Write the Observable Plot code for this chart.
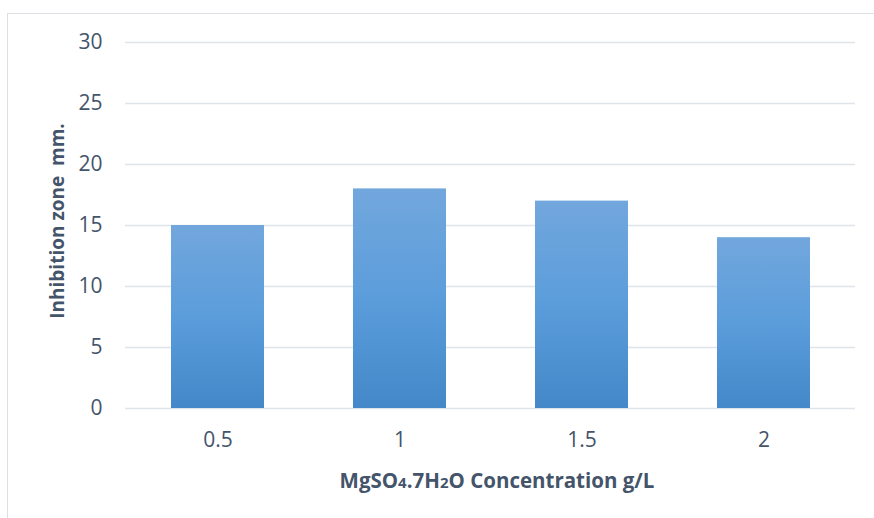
<!DOCTYPE html>
<html>
<head>
<meta charset="utf-8">
<script src="https://cdn.jsdelivr.net/npm/d3@7"></script>
<script src="https://cdn.jsdelivr.net/npm/@observablehq/plot@0.6"></script>
<style>
  html, body { margin: 0; padding: 0; background: #fff; }
  #chart { position: relative; width: 874px; height: 518px; overflow: hidden; }
  #frame { position: absolute; left: 7px; top: 13px; width: 900px; height: 540px;
           border-left: 1.5px solid #dcdfe3; border-top: 1.5px solid #dcdfe3; box-sizing: border-box; }
  #chart svg { position: absolute; left: 0; top: 0; }
</style>
</head>
<body>
<div id="chart"><div id="frame"></div></div>
<script>
// MgSO4.7H2O concentration (g/L) and the inhibition zone it produced (mm)
const concentrations = ["0.5", "1", "1.5", "2"];
const inhibitionZone = [15, 18, 17, 14];
const yTicks = [0, 5, 10, 15, 20, 25, 30];

const rows = concentrations.map((c, i) => ({ conc: c, zone: inhibitionZone[i] }));

const ink = "#44546a";
const font = "'Open Sans', 'DejaVu Sans', sans-serif";

// vertical blue gradient used to fill the bars
const gradientDefs = () => {
  const defs = d3.create("svg:defs");
  const g = defs.append("linearGradient")
    .attr("id", "barFill").attr("x1", 0).attr("y1", 0).attr("x2", 0).attr("y2", 1);
  g.append("stop").attr("offset", "0%").attr("stop-color", "#72a7dd");
  g.append("stop").attr("offset", "50%").attr("stop-color", "#5b9ddb");
  g.append("stop").attr("offset", "100%").attr("stop-color", "#4488c9");
  return defs.node();
};

const chart = Plot.plot({
  width: 874,
  height: 518,
  marginLeft: 125,
  marginRight: 19,
  marginTop: 42,
  marginBottom: 110,
  style: { fontFamily: font, fontSize: "20px", color: ink, background: "transparent" },
  x: { domain: concentrations, paddingInner: 0.49, paddingOuter: 0.245, label: null },
  y: { domain: [0, 30], ticks: yTicks, label: null },
  marks: [
    gradientDefs,
    Plot.gridY(yTicks, { stroke: "#dfe3ea", strokeOpacity: 1, strokeWidth: 1.6 }),
    Plot.barY(rows, { x: "conc", y: "zone", fill: "url(#barFill)" }),
    Plot.axisY(yTicks, { tickSize: 0, tickPadding: 23, fill: ink, fontSize: 21, label: null }),
    Plot.axisX({ tickSize: 0, tickPadding: 24, fill: ink, fontSize: 21, label: null })
  ]
});

// axis titles
const svg = d3.select(chart);
svg.append("text")
  .attr("transform", "translate(64,221) rotate(-90)")
  .attr("text-anchor", "middle")
  .attr("fill", ink)
  .attr("font-family", font)
  .attr("font-weight", "bold")
  .attr("font-size", 19)
  .style("white-space", "pre")
  .attr("xml:space", "preserve")
  .text("Inhibition zone  mm.");

const xTitle = svg.append("text")
  .attr("x", 497).attr("y", 488)
  .attr("text-anchor", "middle")
  .attr("fill", ink)
  .attr("font-family", font)
  .attr("font-weight", "bold")
  .attr("font-size", 20.5);
[["MgSO", 20.5], ["4", 15], [".7H", 20.5], ["2", 15], ["O Concentration g/L", 20.5]]
  .forEach(([t, s]) => xTitle.append("tspan").attr("font-size", s).text(t));

document.getElementById("chart").appendChild(chart);
</script>
</body>
</html>
